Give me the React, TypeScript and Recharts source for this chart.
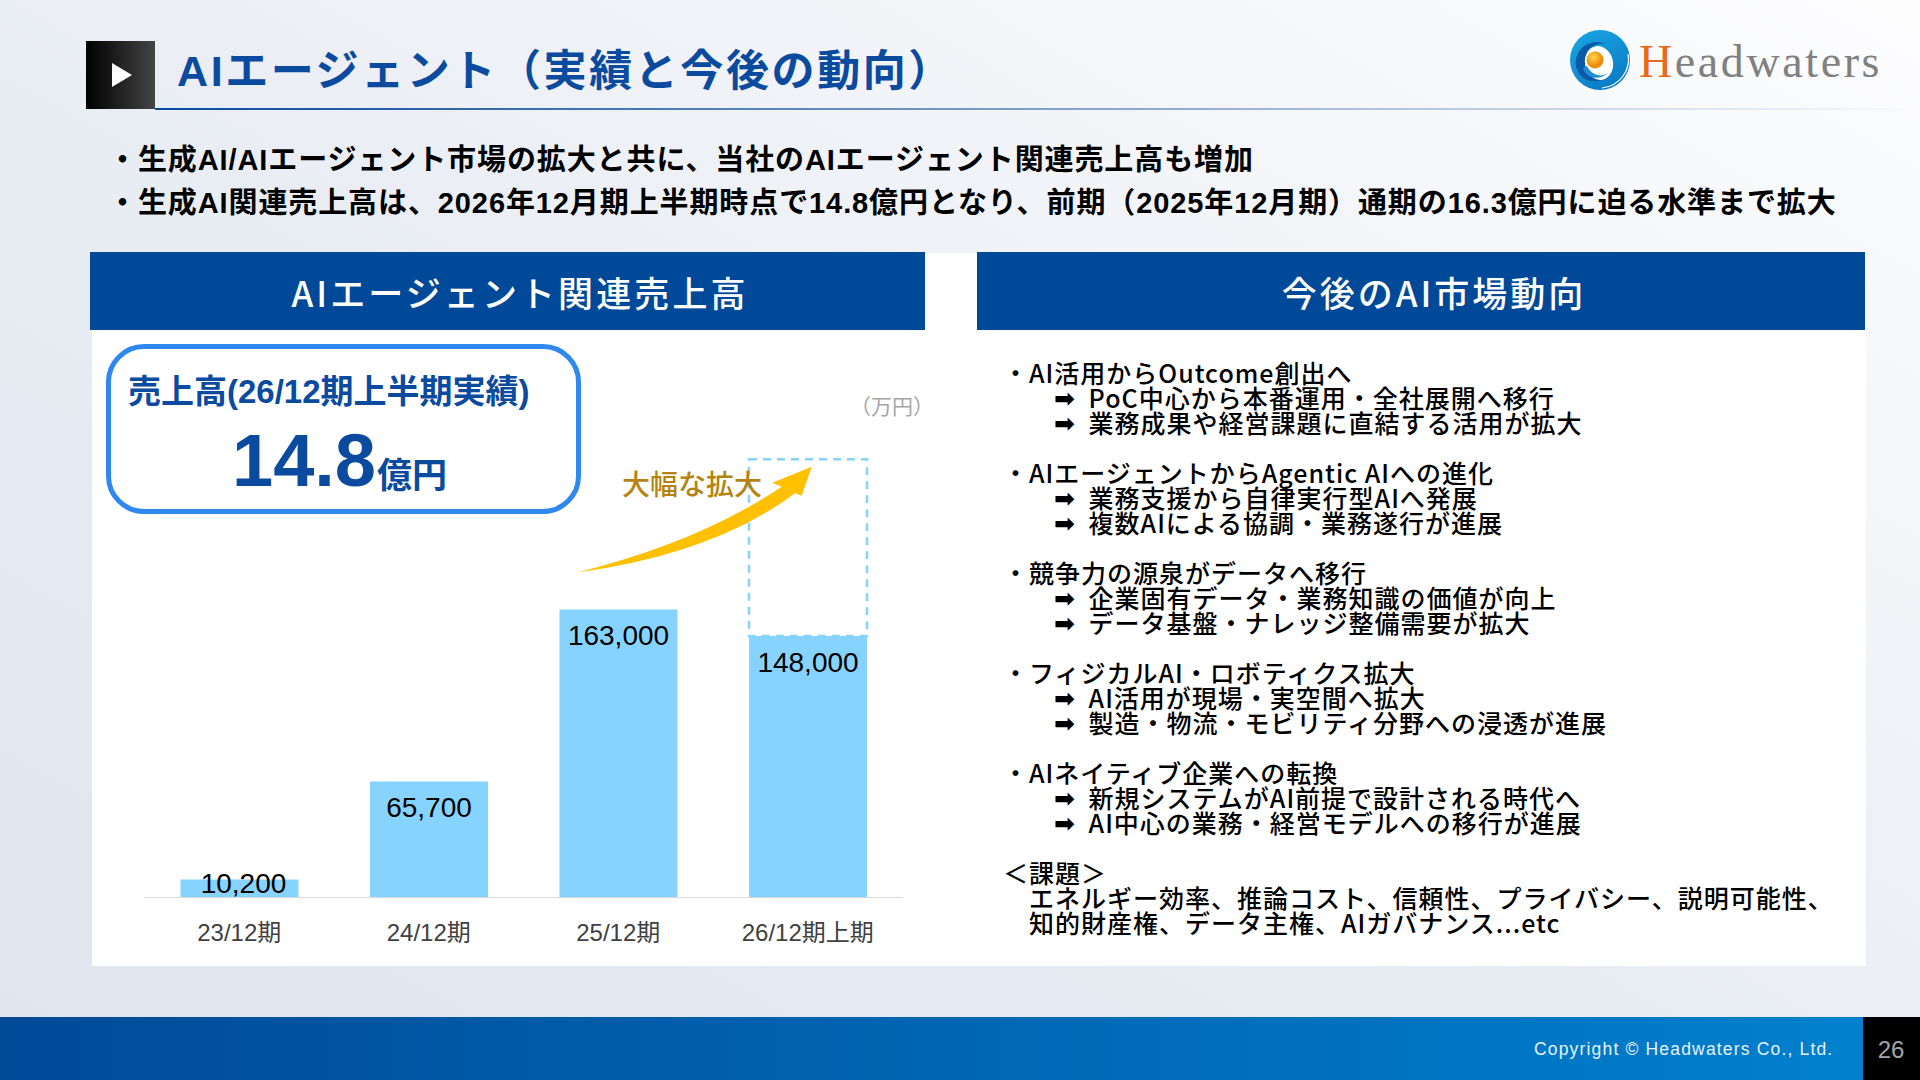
import { BarChart, Bar, XAxis, YAxis, LabelList } from "recharts"

const periodLabels = ["23/12期", "24/12期", "25/12期", "26/12期上期"]
const revenue = [10200, 65700, 163000, 148000]
const projected = [0, 0, 0, 100000]

const summaryLines = [
  "・生成AI/AIエージェント市場の拡大と共に、当社のAIエージェント関連売上高も増加",
  "・生成AI関連売上高は、2026年12月期上半期時点で14.8億円となり、前期（2025年12月期）通期の16.3億円に迫る水準まで拡大",
]

const trendGroups = [
  ["AI活用からOutcome創出へ", "PoC中心から本番運用・全社展開へ移行", "業務成果や経営課題に直結する活用が拡大"],
  ["AIエージェントからAgentic AIへの進化", "業務支援から自律実行型AIへ発展", "複数AIによる協調・業務遂行が進展"],
  ["競争力の源泉がデータへ移行", "企業固有データ・業務知識の価値が向上", "データ基盤・ナレッジ整備需要が拡大"],
  ["フィジカルAI・ロボティクス拡大", "AI活用が現場・実空間へ拡大", "製造・物流・モビリティ分野への浸透が進展"],
  ["AIネイティブ企業への転換", "新規システムがAI前提で設計される時代へ", "AI中心の業務・経営モデルへの移行が進展"],
]
const issueLines = ["エネルギー効率、推論コスト、信頼性、プライバシー、説明可能性、", "知的財産権、データ主権、AIガバナンス...etc"]

const chartData = periodLabels.map((period, i) => ({
  period,
  revenue: revenue[i],
  projected: projected[i],
}))

const FONT = '"Liberation Sans", "Noto Sans CJK JP", sans-serif'
const CJK = '"Noto Sans CJK JP", sans-serif'
const NAVY = "#004898"
const LINE_H = 25
const LIST_TOP = 372

const Text = ({ x, y, size, color = "#000", weight = 700, spacing = 0, children, center = false, family = FONT }: any) => (
  <div
    style={{
      position: "absolute",
      left: x,
      top: y,
      transform: center ? "translate(-50%, -50%)" : "translateY(-50%)",
      fontSize: size,
      color,
      fontWeight: weight,
      letterSpacing: spacing,
      fontFamily: family,
      whiteSpace: "pre",
      lineHeight: 1,
    }}
  >
    {children}
  </div>
)

const renderBarLabel = ({ x, y, width, value, index }: any) => {
  // the first bar is too short, its label sits over the top edge
  const small = index === 0
  return (
    <text
      x={x + width / 2 + (small ? 4 : 0)}
      y={y + (small ? 4 : 26)}
      textAnchor="middle"
      dominantBaseline="central"
      fontSize={28}
      fill="#000"
      fontFamily={FONT}
    >
      {Number(value).toLocaleString("en-US")}
    </text>
  )
}

function Logo() {
  return (
    <svg style={{ position: "absolute", left: 1568, top: 28 }} width={66} height={64}>
      <defs>
        <linearGradient id="swirl" x1="0.2" y1="0" x2="0.8" y2="1">
          <stop offset="0%" stopColor="#18a4e0" />
          <stop offset="100%" stopColor="#0a78c4" />
        </linearGradient>
        <radialGradient id="yolk" cx="0.4" cy="0.35">
          <stop offset="0%" stopColor="#ffd84a" />
          <stop offset="100%" stopColor="#ee8a0c" />
        </radialGradient>
      </defs>
      <circle cx={32} cy={32} r={30} fill="url(#swirl)" />
      <path d="M8 38 C6 20 22 10 38 16 C26 14 16 22 17 36 C18 46 26 52 34 52 C22 56 10 50 8 38 Z" fill="#0b5aa8" />
      <ellipse cx={31} cy={35} rx={14} ry={17} fill="#fff" transform="rotate(-12 31 35)" />
      <path d="M15 40 C18 50 30 54 42 44 C34 50 24 48 19 38 Z" fill="#1a8fd4" />
      <circle cx={27} cy={32} r={8.5} fill="url(#yolk)" />
      <path d="M60 26 C63 42 52 58 34 60" fill="none" stroke="#fff" strokeWidth={1.2} />
    </svg>
  )
}

export default function App() {
  return (
    <div
      style={{
        position: "absolute",
        left: 0,
        top: 0,
        width: 1920,
        height: 1080,
        overflow: "hidden",
        background: "linear-gradient(to top right, #dfe6f0 0%, #e8ecf3 45%, #fdfdfe 100%)",
        fontFamily: FONT,
      }}
    >
      {/* title row */}
      <div style={{ position: "absolute", left: 86, top: 41, width: 69, height: 68, background: "linear-gradient(to right, #000, #444)" }} />
      <svg style={{ position: "absolute", left: 110, top: 62 }} width={24} height={26}>
        <polygon points="2,1 22,13 2,25" fill="#fff" />
      </svg>
      <div style={{ position: "absolute", left: 155, top: 108, width: 1765, height: 2, background: "linear-gradient(to right, #0a4a9f, #0a4a9f00)" }} />
      <Text x={177} y={71} size={43} color="#0a4a9f" spacing={2.6}>AIエージェント（実績と今後の動向）</Text>
      <Logo />
      <Text x={1639} y={62} size={46} weight={400} color="#808080" spacing={2.6} family='"Liberation Serif", serif'>
        <span style={{ color: "#e8691a" }}>H</span>eadwaters
      </Text>

      {/* summary */}
      <Text x={108} y={160} size={29} spacing={0.9}>{summaryLines[0]}</Text>
      <Text x={108} y={203} size={29} spacing={0.9}>{summaryLines[1]}</Text>

      {/* panels */}
      <div style={{ position: "absolute", left: 92, top: 253, width: 1774, height: 713, background: "#fff" }} />
      <div style={{ position: "absolute", left: 90, top: 252, width: 835, height: 78, background: NAVY }} />
      <div style={{ position: "absolute", left: 976.5, top: 252, width: 888.5, height: 78, background: NAVY }} />
      <Text x={520} y={290.5} size={35} color="#fff" spacing={3.1} weight={500} center family={CJK}>AIエージェント関連売上高</Text>
      <Text x={1434} y={290.5} size={35} color="#fff" spacing={3} weight={500} center family={CJK}>今後のAI市場動向</Text>

      {/* callout */}
      <div style={{ position: "absolute", left: 106, top: 344, width: 475, height: 170, boxSizing: "border-box", border: "5px solid #2f87f0", borderRadius: 38, background: "#fff" }} />
      <Text x={128} y={391} size={33} color="#0a4a9f">売上高(26/12期上半期実績)</Text>
      <Text x={232} y={461} size={74} color="#0a4a9f">14.8</Text>
      <Text x={377} y={475} size={35} color="#0a4a9f">億円</Text>
      <Text x={850} y={406} size={21} color="#a6a6a6" weight={400}>（万円）</Text>

      {/* chart */}
      <div style={{ position: "absolute", left: 100, top: 440 }}>
        <BarChart
          width={900}
          height={540}
          data={chartData}
          barSize={118}
          margin={{ top: 15.8, right: 97.5, left: 44.5, bottom: 22.4 }}
        >
          <XAxis
            dataKey="period"
            height={60}
            tickLine={false}
            axisLine={{ stroke: "#d9d9d9" }}
            tick={{ fill: "#404040", fontSize: 24, fontFamily: FONT }}
            tickMargin={20}
            interval={0}
          />
          <YAxis hide domain={[0, 250000]} />
          <Bar dataKey="revenue" stackId="a" fill="#87d3ff" isAnimationActive={false}>
            <LabelList dataKey="revenue" content={renderBarLabel} />
          </Bar>
          <Bar
            dataKey="projected"
            stackId="a"
            fill="none"
            stroke="#87d3ff"
            strokeWidth={2.5}
            strokeDasharray="8 6"
            isAnimationActive={false}
          />
        </BarChart>
      </div>

      {/* growth arrow */}
      <Text x={622} y={482.5} size={28} color="#b58310" weight={500} family={CJK}>大幅な拡大</Text>
      <svg style={{ position: "absolute", left: 0, top: 0 }} width={1920} height={1080}>
        <path
          d="M577.5 572.4 Q700.4 541.5 781.7 486.7 L772.3 482.7 L811.7 466.7 L801.7 495.7 L795 493.3 Q713.8 553.8 577.5 572.4 Z"
          fill="#ffc000"
        />
      </svg>

      {/* trends */}
      {trendGroups.map((group, g) =>
        group.map((line, l) => {
          const y = LIST_TOP + (g * 4 + l) * LINE_H
          return l === 0 ? (
            <Text key={line} x={1003} y={y} size={25} spacing={1} weight={500} family={CJK}>{"・" + line}</Text>
          ) : (
            <div key={line}>
              <Text x={1054} y={y + 1} size={25} family='"DejaVu Sans"' weight={700}>➡</Text>
              <Text x={1088.6} y={y} size={25} spacing={1} weight={500} family={CJK}>{line}</Text>
            </div>
          )
        })
      )}
      <Text x={1003} y={LIST_TOP + 20 * LINE_H} size={25} spacing={1} weight={500} family={CJK}>＜課題＞</Text>
      <Text x={1029} y={LIST_TOP + 21 * LINE_H} size={25} spacing={1} weight={500} family={CJK}>{issueLines[0]}</Text>
      <Text x={1029} y={LIST_TOP + 22 * LINE_H} size={25} spacing={1} weight={500} family={CJK}>{issueLines[1]}</Text>

      {/* footer */}
      <div style={{ position: "absolute", left: 0, top: 1017, width: 1920, height: 63, background: "linear-gradient(to right, #004a98, #0082cf)" }} />
      <div style={{ position: "absolute", left: 1863, top: 1017, width: 57, height: 63, background: "#000" }} />
      <Text x={1534} y={1050} size={17.5} color="#e8f0f8" weight={400} spacing={1.17}>Copyright © Headwaters Co., Ltd.</Text>
      <Text x={1891} y={1050} size={24} color="#a6a6a6" weight={400} center>26</Text>
    </div>
  )
}
